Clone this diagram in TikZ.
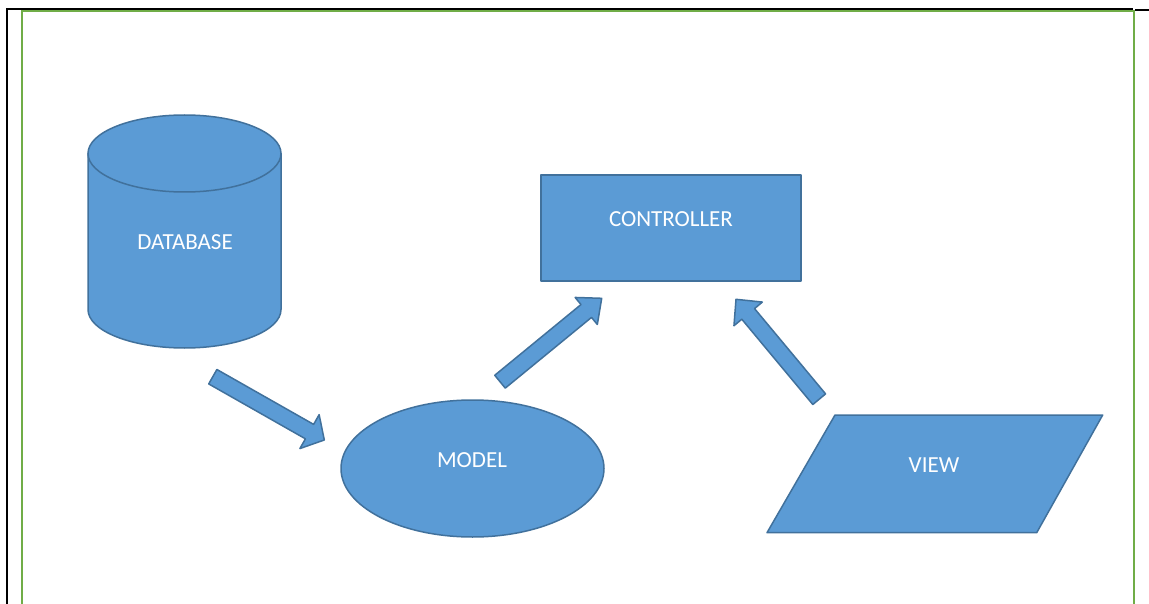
\documentclass[tikz,border=0pt]{standalone}
\usepackage{fontspec}
\setmainfont{Carlito}
\usetikzlibrary{calc,shapes.geometric}
\definecolor{fillblue}{HTML}{5B9BD5}
\definecolor{edgeblue}{HTML}{41719C}
\definecolor{framegreen}{HTML}{70AD47}
\newcommand{\blockarr}[5]{%
  \coordinate (#1-h) at ($(#2)!#5!(#1)$);
  \draw[shapestyle] ($(#1)!#3!90:(#2)$) -- ($(#1-h)!#3!90:(#2)$) -- ($(#1-h)!#4!90:(#2)$) -- (#2)
     -- ($(#1-h)!#4!-90:(#2)$) -- ($(#1-h)!#3!-90:(#2)$) -- ($(#1)!#3!-90:(#2)$) -- cycle;}
\begin{document}
\begin{tikzpicture}[x=1pt,y=-1pt,
  shapestyle/.style={fill=fillblue, draw=edgeblue, line width=1.5pt, line join=round},
  txt/.style={text=white, font=\fontsize{23}{27}\selectfont, inner sep=0pt}]
\useasboundingbox (0,0) rectangle (1149,604);
% page frame
\draw[framegreen, line width=2pt] (21.5,604) -- (21.5,11.2) -- (1134,11.2) -- (1134,604);
\draw[black, line width=2pt] (6,9.5) -- (1133,9.5);
\draw[black, line width=2pt] (1135,10.2) -- (1149,10.2);
\draw[black, line width=2pt] (7,9) -- (7,604);
% database cylinder
\draw[shapestyle] (88,153.5) -- (88,309.5) arc[start angle=180, end angle=360, x radius=96.5pt, y radius=38.5pt] -- (281,153.5) -- cycle;
\draw[shapestyle] (184.5,153.5) ellipse[x radius=96.5pt, y radius=38.5pt];
\node[txt] (db) at (185,242) {DATABASE};
% controller
\node[shapestyle, rectangle, minimum width=260pt, minimum height=106pt, inner sep=0pt] (ctrlbox) at (671,228) {};
\node[txt] (ctrl) at (671,218.7) {CONTROLLER};
% model
\node[shapestyle, ellipse, minimum width=263pt, minimum height=137pt, inner sep=0pt] (modelbox) at (472.5,468.5) {};
\node[txt] (model) at (472,460) {MODEL};
% view
\draw[shapestyle] (835,415) -- (1102.7,415) -- (1036.7,532.7) -- (767,532.7) -- cycle;
\node[txt] (view) at (934,465) {VIEW};
% block arrows
\coordinate (a1t) at (212.8,376.7); \coordinate (a1p) at (324.3,440);
\coordinate (a2t) at (500,381.7);   \coordinate (a2p) at (601.7,298.3);
\coordinate (a3t) at (819.2,399.2); \coordinate (a3p) at (736,299.3);
\blockarr{a1t}{a1p}{8.3pt}{19.5pt}{17pt}
\blockarr{a2t}{a2p}{8.3pt}{17.5pt}{20pt}
\blockarr{a3t}{a3p}{8.3pt}{18.5pt}{19pt}
\end{tikzpicture}
\end{document}
